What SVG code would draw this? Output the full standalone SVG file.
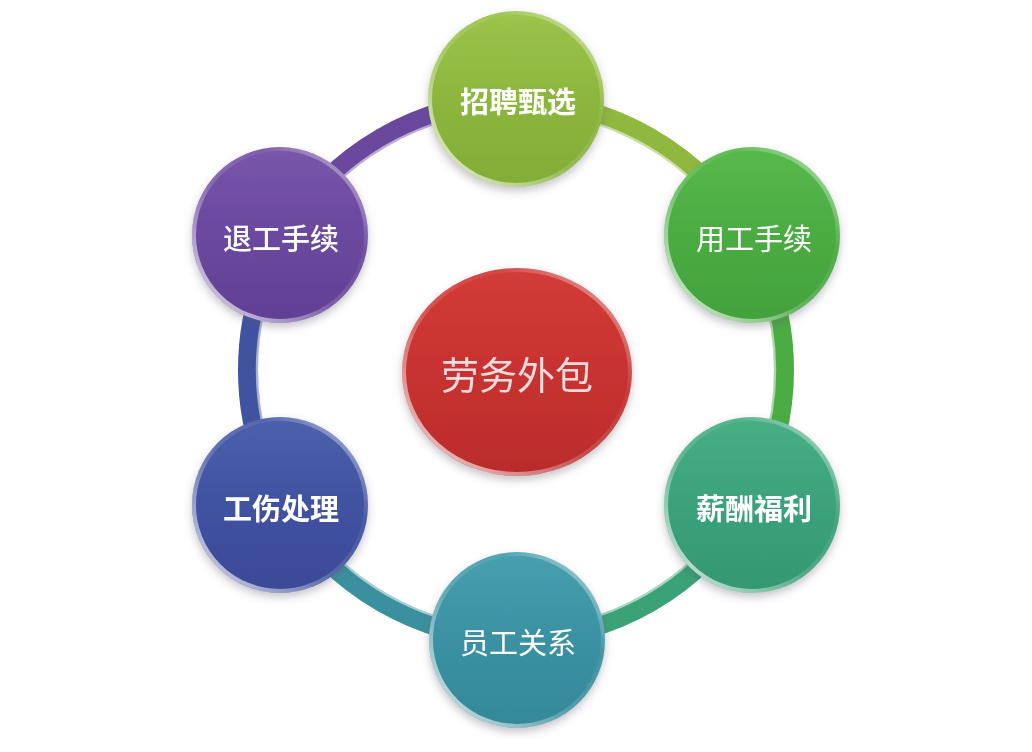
<svg xmlns="http://www.w3.org/2000/svg" width="1032" height="752" viewBox="0 0 1032 752">
  <defs>
    <filter id="shadow" x="-20%" y="-20%" width="140%" height="150%">
      <feDropShadow dx="0" dy="4" stdDeviation="4" flood-color="#5a5a6a" flood-opacity="0.35"/>
    </filter>
    <linearGradient id="rim" x1="0" y1="1" x2="1" y2="0">
      <stop offset="0" stop-color="#ffffff" stop-opacity="0.85"/>
      <stop offset="0.45" stop-color="#ffffff" stop-opacity="0.15"/>
      <stop offset="0.7" stop-color="#ffffff" stop-opacity="0.05"/>
      <stop offset="1" stop-color="#ffffff" stop-opacity="0.6"/>
    </linearGradient>
    <linearGradient id="gYG" x1="0" y1="0" x2="0" y2="1">
      <stop offset="0" stop-color="#9cc44c"/><stop offset="0.5" stop-color="#8cb63c"/><stop offset="1" stop-color="#82ad38"/>
    </linearGradient>
    <linearGradient id="gG" x1="0" y1="0" x2="0" y2="1">
      <stop offset="0" stop-color="#58b94c"/><stop offset="0.5" stop-color="#4aac42"/><stop offset="1" stop-color="#42a23d"/>
    </linearGradient>
    <linearGradient id="gTG" x1="0" y1="0" x2="0" y2="1">
      <stop offset="0" stop-color="#48af84"/><stop offset="0.5" stop-color="#3aa27a"/><stop offset="1" stop-color="#349871"/>
    </linearGradient>
    <linearGradient id="gT" x1="0" y1="0" x2="0" y2="1">
      <stop offset="0" stop-color="#489fae"/><stop offset="0.5" stop-color="#3a91a2"/><stop offset="1" stop-color="#358898"/>
    </linearGradient>
    <linearGradient id="gB" x1="0" y1="0" x2="0" y2="1">
      <stop offset="0" stop-color="#4c60ac"/><stop offset="0.5" stop-color="#4052a0"/><stop offset="1" stop-color="#3a4a98"/>
    </linearGradient>
    <linearGradient id="gP" x1="0" y1="0" x2="0" y2="1">
      <stop offset="0" stop-color="#7856aa"/><stop offset="0.5" stop-color="#6a489e"/><stop offset="1" stop-color="#614094"/>
    </linearGradient>
    <linearGradient id="gR" x1="0" y1="0" x2="0" y2="1">
      <stop offset="0" stop-color="#d23c38"/><stop offset="0.5" stop-color="#c83230"/><stop offset="1" stop-color="#ba2c2c"/>
    </linearGradient>
    <style>
      .arc { fill: none; stroke-width: 20; }
      .arcHi { fill: none; stroke: #ffffff; stroke-opacity: 0.55; stroke-width: 2.5; }
      .rim { fill: none; stroke: url(#rim); stroke-width: 4; }
      .lbl { font-family: "Noto Sans CJK SC", "Noto Sans", sans-serif; font-size: 29px; fill: #ffffff; text-anchor: middle; dominant-baseline: central; }
      .b { font-weight: bold; }
      .m { font-weight: 500; }
      .core { font-family: "Noto Sans CJK SC", "Noto Sans", sans-serif; font-size: 38px; fill: #f8dcdc; text-anchor: middle; dominant-baseline: central; font-weight: normal; }
    </style>
  </defs>

  <rect x="0" y="0" width="1032" height="752" fill="#ffffff"/>

  <g id="connectors">
    <path class="arc" stroke="#6a489e" d="M283.9,236 A268,268 0 0 1 516,102"/>
    <path class="arc" stroke="#90b83e" d="M516,102 A268,268 0 0 1 748.1,236"/>
    <path class="arc" stroke="#4aac42" d="M748.1,236 A268,268 0 0 1 748.1,504"/>
    <path class="arc" stroke="#3aa276" d="M748.1,504 A268,268 0 0 1 516,638"/>
    <path class="arc" stroke="#3a909e" d="M516,638 A268,268 0 0 1 283.9,504"/>
    <path class="arc" stroke="#4052a0" d="M283.9,504 A268,268 0 0 1 283.9,236"/>
    <circle class="arcHi" cx="516" cy="370" r="259"/>
  </g>

  <g id="node-center" filter="url(#shadow)">
    <ellipse cx="517" cy="372" rx="115" ry="104" fill="url(#gR)"/>
    <ellipse class="rim" cx="517" cy="372" rx="113" ry="102"/>
    <text class="core" x="517" y="372">劳务外包</text>
  </g>

  <g id="node-zhaopin" filter="url(#shadow)">
    <circle cx="516" cy="99" r="88" fill="url(#gYG)"/>
    <circle class="rim" cx="516" cy="99" r="86"/>
    <text class="lbl b" x="518" y="100">招聘甄选</text>
  </g>

  <g id="node-yonggong" filter="url(#shadow)">
    <circle cx="752" cy="235" r="88" fill="url(#gG)"/>
    <circle class="rim" cx="752" cy="235" r="86"/>
    <text class="lbl" x="754" y="237">用工手续</text>
  </g>

  <g id="node-xinchou" filter="url(#shadow)">
    <circle cx="752" cy="505" r="88" fill="url(#gTG)"/>
    <circle class="rim" cx="752" cy="505" r="86"/>
    <text class="lbl b" x="754" y="507">薪酬福利</text>
  </g>

  <g id="node-yuangong" filter="url(#shadow)">
    <circle cx="517" cy="640" r="88" fill="url(#gT)"/>
    <circle class="rim" cx="517" cy="640" r="86"/>
    <text class="lbl" x="518" y="641">员工关系</text>
  </g>

  <g id="node-gongshang" filter="url(#shadow)">
    <circle cx="280" cy="505" r="88" fill="url(#gB)"/>
    <circle class="rim" cx="280" cy="505" r="86"/>
    <text class="lbl b" x="281" y="507">工伤处理</text>
  </g>

  <g id="node-tuigong" filter="url(#shadow)">
    <circle cx="280" cy="235" r="88" fill="url(#gP)"/>
    <circle class="rim" cx="280" cy="235" r="86"/>
    <text class="lbl m" x="281" y="237">退工手续</text>
  </g>
</svg>
